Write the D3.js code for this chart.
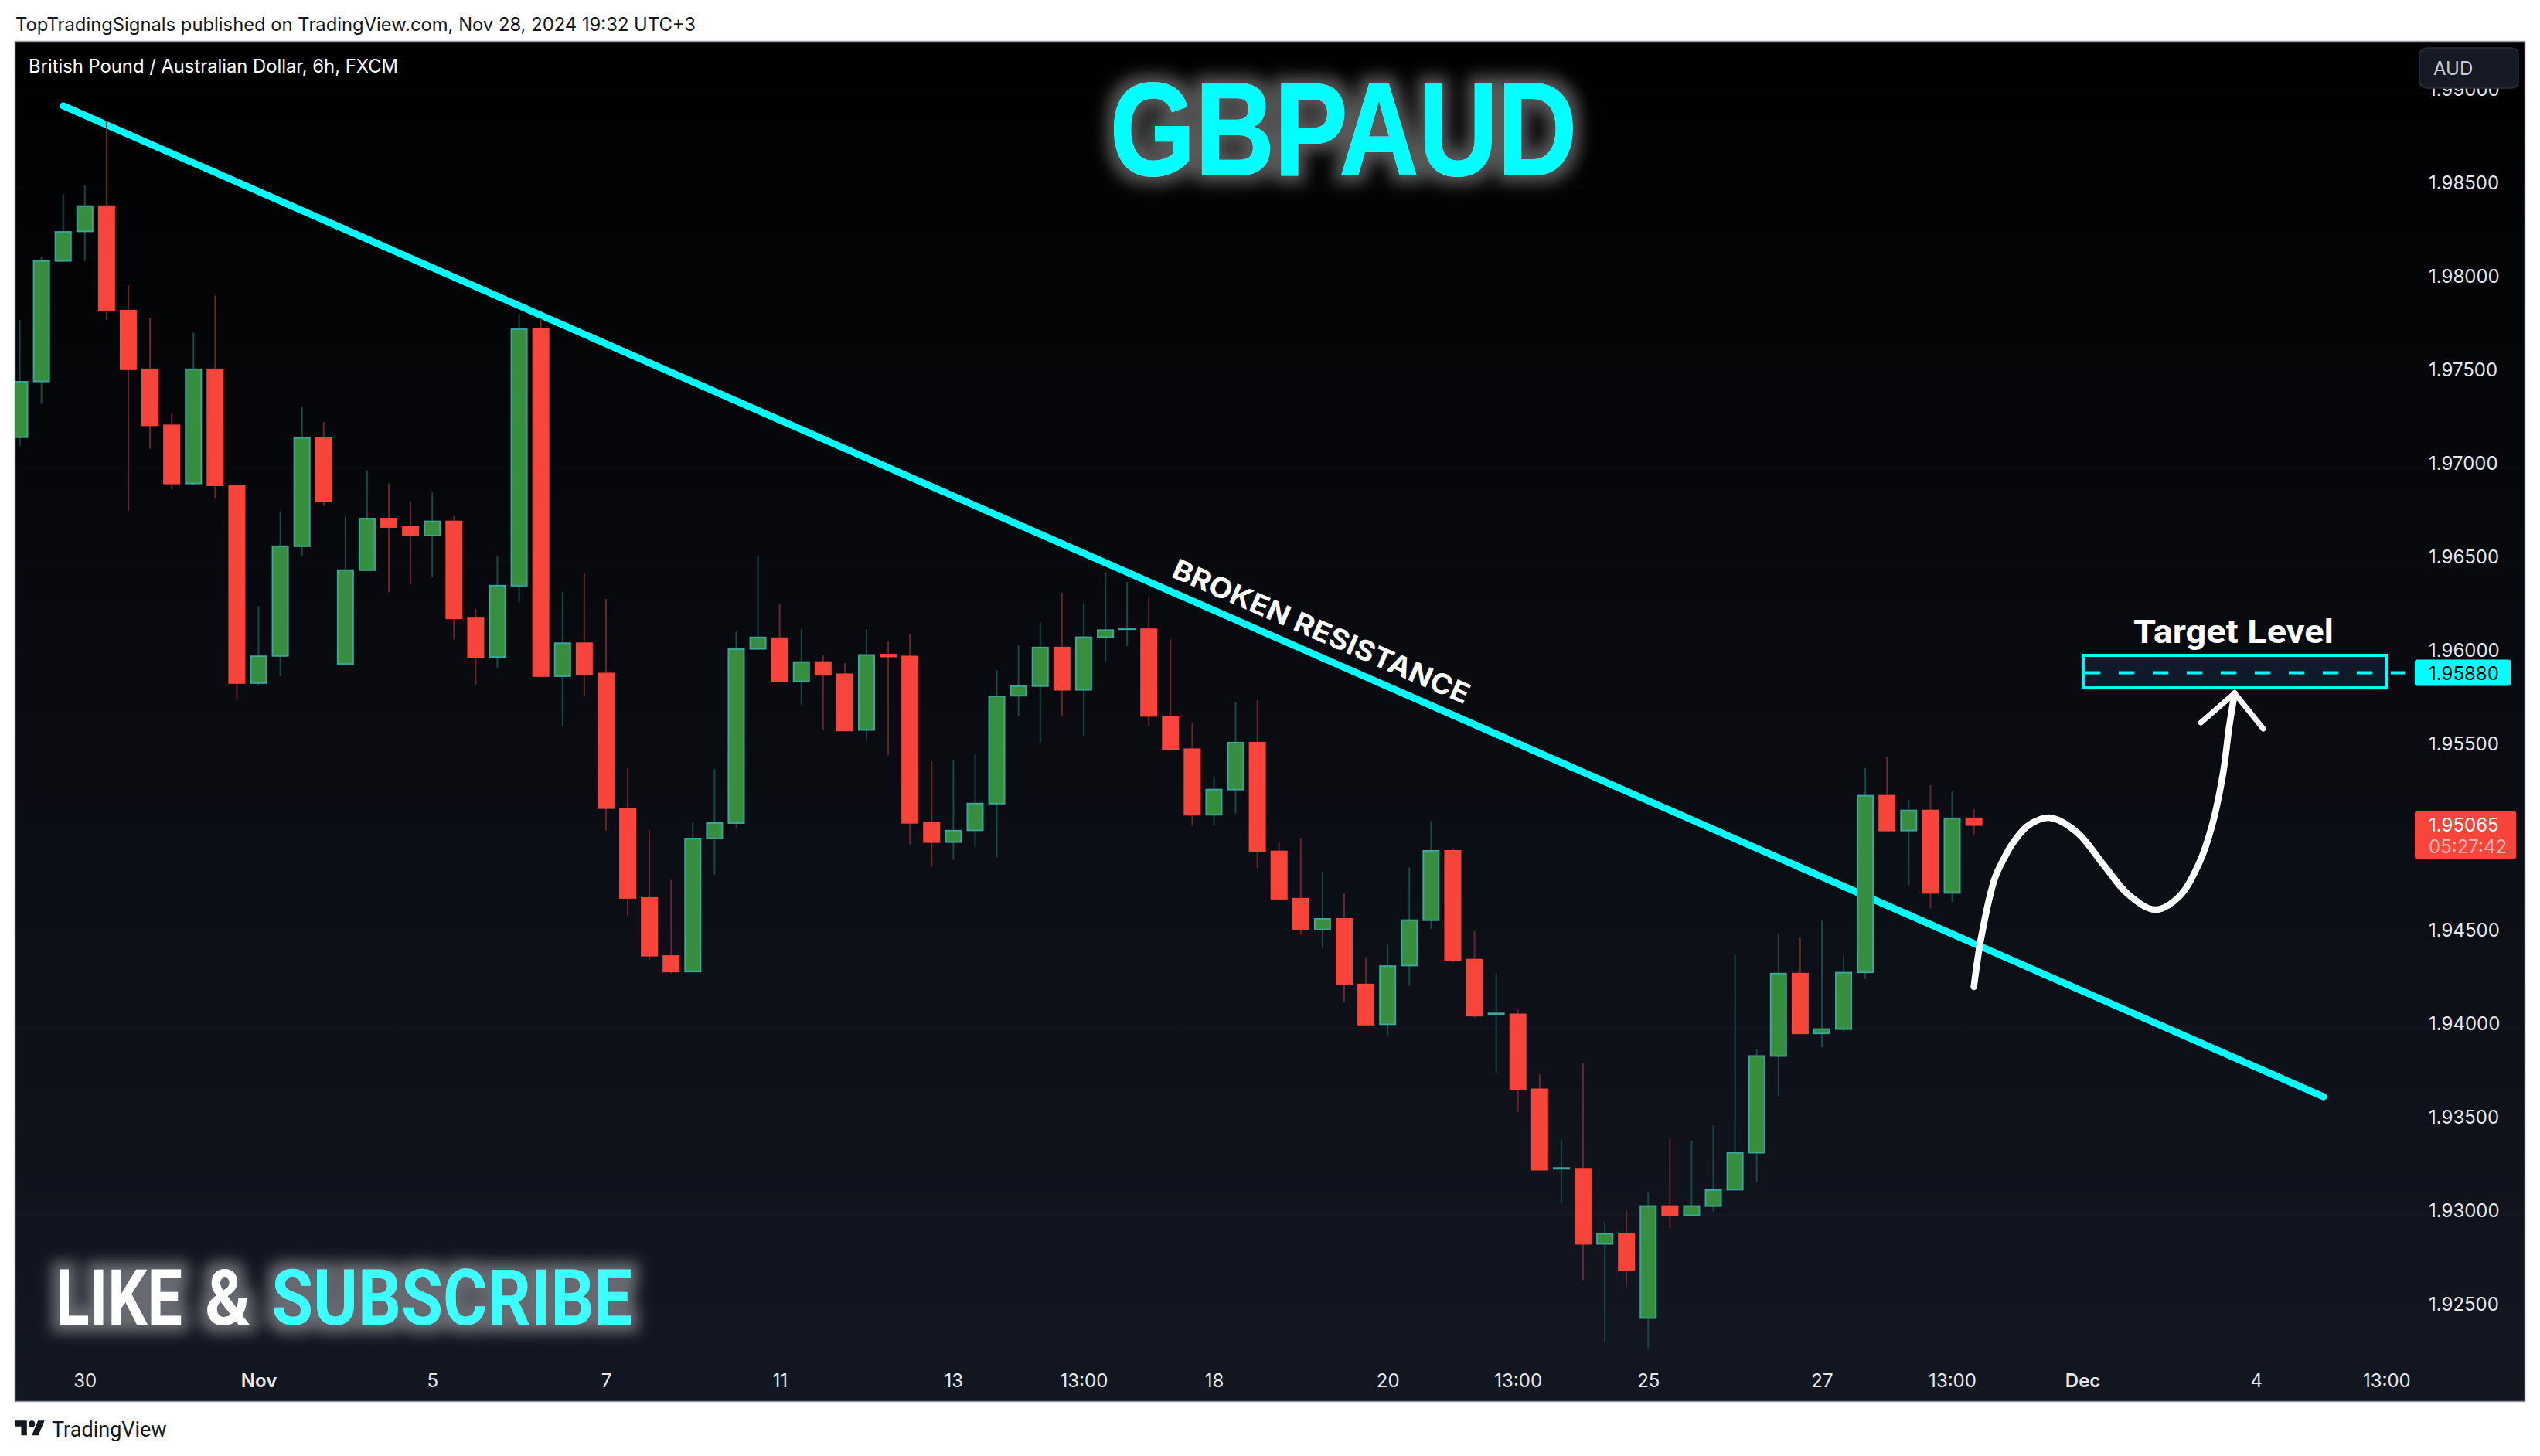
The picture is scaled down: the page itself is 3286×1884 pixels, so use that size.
<!DOCTYPE html>
<html><head><meta charset="utf-8">
<script src="https://cdn.jsdelivr.net/npm/d3@7/dist/d3.min.js"></script>
<style>html,body{margin:0;padding:0;background:#fff;width:3286px;height:1884px;overflow:hidden}svg{display:block}text{font-family:Inter,Roboto,sans-serif}</style>
</head><body><svg id="c" width="3286" height="1884"></svg>
<script>
const opens=[1.97141,1.97439,1.98084,1.98242,1.98377,1.97818,1.97504,1.97204,1.96893,1.97504,
1.96883,1.95825,1.95970,1.96557,1.97138,1.95928,1.96429,1.96705,1.96660,1.96614,
1.96690,1.96171,1.95965,1.96346,1.97720,1.95862,1.96038,1.95876,1.95154,1.94675,
1.94364,1.94281,1.94993,1.95076,1.96008,1.96065,1.95834,1.95937,1.95872,1.95574,
1.95977,1.95967,1.95077,1.94974,1.95037,1.95180,1.95757,1.95809,1.96015,1.95789,
1.96070,1.96113,1.96113,1.95646,1.95471,1.95120,1.95255,1.95506,1.94924,1.94671,
1.94506,1.94563,1.94212,1.93999,1.94313,1.94556,1.94927,1.94345,1.94052,1.94052,
1.93651,1.93226,1.93226,1.92824,1.92878,1.92427,1.93026,1.92977,1.93026,1.93114,
1.93312,1.93829,1.94270,1.93950,1.93973,1.94277,1.95222,1.95036,1.95143,1.94702,1.95101];
const closes=[1.97437,1.98084,1.98239,1.98377,1.97818,1.97504,1.97204,1.96893,1.97504,1.96883,
1.95825,1.95968,1.96557,1.97138,1.96798,1.96429,1.96705,1.96660,1.96614,1.96690,
1.96171,1.95963,1.96346,1.97718,1.95862,1.96038,1.95872,1.95156,1.94675,1.94366,
1.94281,1.94993,1.95076,1.96006,1.96069,1.95834,1.95937,1.95869,1.95571,1.95975,
1.95967,1.95077,1.94974,1.95035,1.95180,1.95754,1.95809,1.96015,1.95789,1.96070,
1.96108,1.96118,1.95649,1.95471,1.95120,1.95255,1.95506,1.94924,1.94671,1.94506,
1.94563,1.94212,1.93997,1.94310,1.94556,1.94927,1.94340,1.94045,1.94057,1.93651,
1.93221,1.93230,1.92824,1.92878,1.92683,1.93026,1.92977,1.93026,1.93112,1.93312,
1.93829,1.94270,1.93950,1.93973,1.94275,1.95222,1.95036,1.95143,1.94702,1.95101,1.95065];
const highs=[1.97768,1.98106,1.98442,1.98487,1.98833,1.97953,1.97780,1.97271,1.97700,1.97898,
1.96883,1.96236,1.96745,1.97304,1.97221,1.96715,1.96963,1.96893,1.96798,1.96845,
1.96720,1.96221,1.96504,1.97800,1.97775,1.96311,1.96414,1.96274,1.95369,1.95038,
1.94772,1.95083,1.95364,1.96101,1.96510,1.96250,1.96113,1.95977,1.95932,1.96113,
1.96047,1.96088,1.95406,1.95413,1.95448,1.95894,1.96027,1.96148,1.96308,1.96253,
1.96416,1.96366,1.96283,1.96060,1.95609,1.95323,1.95722,1.95732,1.94974,1.94997,
1.94814,1.94699,1.94358,1.94425,1.94839,1.95087,1.94944,1.94498,1.94273,1.94080,
1.93732,1.93379,1.93790,1.92943,1.93003,1.93096,1.93393,1.93377,1.93458,1.94368,
1.93864,1.94484,1.94461,1.94553,1.94368,1.95370,1.95431,1.95199,1.95278,1.95245,1.95150];
const lows=[1.97093,1.97319,1.98084,1.98084,1.97768,1.96747,1.97078,1.96860,1.96883,1.96813,
1.95735,1.95810,1.95862,1.96504,1.96772,1.95928,1.96429,1.96311,1.96354,1.96391,
1.96058,1.95817,1.95903,1.96256,1.95862,1.95594,1.95752,1.95036,1.94579,1.94341,
1.94271,1.94281,1.94800,1.95051,1.96008,1.95834,1.95709,1.95576,1.95566,1.95521,
1.95438,1.94962,1.94842,1.94879,1.94947,1.94892,1.95646,1.95508,1.95649,1.95544,
1.95940,1.96022,1.95596,1.95463,1.95062,1.95062,1.95127,1.94834,1.94671,1.94478,
1.94405,1.94120,1.93997,1.93942,1.94205,1.94508,1.94330,1.94036,1.93734,1.93530,
1.93221,1.93040,1.92629,1.92302,1.92597,1.92265,1.92908,1.92977,1.92996,1.93114,
1.93152,1.93611,1.93950,1.93876,1.93955,1.94240,1.95036,1.94744,1.94618,1.94653,1.95013];
const priceTicks=[1.925,1.93,1.935,1.94,1.945,1.955,1.96,1.965,1.97,1.975,1.98,1.985,1.99];
const timeTickIdx=[3,11,19,27,35,43,49,55,63,69,75,83,89,95,103,109];
const timeTickLabels=["30","Nov","5","7","11","13","13:00","18","20","13:00","25","27","13:00","Dec","4","13:00"];
const boldTicks=["Nov","Dec"];
const trendIdx=[2,106.1];
const trendPrice=[1.98914,1.93611];
const curveIdx=[90,90.33,90.97,91.44,91.79,92.51,93.51,94.75,96,97.1,98.35,99.45,100.37,100.98,101.48,101.76,102.01];
const curvePrice=[1.94199,1.94459,1.94782,1.94898,1.94968,1.95063,1.95104,1.95026,1.94848,1.94695,1.94612,1.94682,1.9486,1.95067,1.95344,1.95592,1.9577];
const headIdx=[100.45,102.01,103.33];
const headPrice=[1.95613,1.9577,1.9558];
const targetPrice=1.9588;
const targetBoxIdx=[95.03,109.02];
const targetBoxPrice=[1.95973,1.95799];
const targetDashEndIdx=109.85;
const lastPrice=1.95065;
const countdown="05:27:42";

const L=20,T=54,R=3266,B=1813;
const svg=d3.select("#c");
const x=d3.scaleLinear().domain([0,90]).range([25.5,2553.6]);
const y=d3.scaleLinear().domain([1.985,1.925]).range([237,1687.8]);
const defs=svg.append("defs");
const g=defs.append("linearGradient").attr("id","bg").attr("x1",0).attr("x2",0).attr("y1",0).attr("y2",1);
g.append("stop").attr("offset",0).attr("stop-color","#000000");
g.append("stop").attr("offset",1).attr("stop-color","#131722");
defs.append("clipPath").attr("id","cp").append("rect").attr("x",L).attr("y",T).attr("width",R-L).attr("height",B-T);
function glow(id,rad,std,op){
 const f=defs.append("filter").attr("id",id).attr("x","-20%").attr("y","-60%").attr("width","140%").attr("height","220%");
 f.append("feMorphology").attr("in","SourceAlpha").attr("operator","dilate").attr("radius",rad).attr("result","d");
 f.append("feGaussianBlur").attr("in","d").attr("stdDeviation",std).attr("result","b");
 f.append("feFlood").attr("flood-color","#ffffff").attr("flood-opacity",op);
 f.append("feComposite").attr("in2","b").attr("operator","in").attr("result","gl");
 const m=f.append("feMerge");m.append("feMergeNode").attr("in","gl");m.append("feMergeNode").attr("in","SourceGraphic");
}
glow("gT",9,10,0.34);
glow("gL",10,9,0.36);

svg.append("text").attr("x",20).attr("y",40).attr("font-size",24).attr("fill","#131722").attr("textLength",880).attr("lengthAdjust","spacingAndGlyphs").text("TopTradingSignals published on TradingView.com, Nov 28, 2024 19:32 UTC+3");
svg.append("rect").attr("x",L-.5).attr("y",T-.5).attr("width",R-L+1).attr("height",B-T+1).attr("fill","url(#bg)").attr("stroke","#9598a1").attr("stroke-width",1.5);
const plot=svg.append("g").attr("clip-path","url(#cp)");

plot.append("g").selectAll("line").data(priceTicks).join("line")
 .attr("x1",L).attr("x2",R).attr("y1",d=>y(d)+5).attr("y2",d=>y(d)+5).attr("stroke","#fff").attr("stroke-opacity",.015).attr("stroke-width",2);

const line=d3.line().x(d=>x(d[0])).y(d=>y(d[1]));
plot.append("path").attr("d",line(d3.zip(trendIdx,trendPrice))).attr("fill","none").attr("stroke","#00ffff").attr("stroke-width",9).attr("stroke-linecap","round");

const idx=d3.range(opens.length);
const up=i=>closes[i]>=opens[i];
plot.append("g").selectAll("line").data(idx).join("line")
 .attr("x1",i=>x(i)).attr("x2",i=>x(i)).attr("y1",i=>y(highs[i])).attr("y2",i=>y(lows[i]))
 .attr("stroke",i=>up(i)?"#134a4a":"#6b2429").attr("stroke-width",2);
plot.append("g").selectAll("rect").data(idx).join("rect")
 .attr("x",i=>x(i)-10).attr("width",20)
 .attr("y",i=>y(Math.max(opens[i],closes[i])))
 .attr("height",i=>Math.abs(y(opens[i])-y(closes[i])))
 .attr("fill",i=>up(i)?"#388e3f":"#f7453b")
 .attr("stroke",i=>up(i)?"#3aa79c":"#f7453b").attr("stroke-width",2);

plot.append("rect").attr("x",x(targetBoxIdx[0])).attr("y",y(targetBoxPrice[0])).attr("width",x(targetBoxIdx[1])-x(targetBoxIdx[0])).attr("height",y(targetBoxPrice[1])-y(targetBoxPrice[0]))
 .attr("fill","#0f1a2a").attr("stroke","#00ffff").attr("stroke-width",4);
plot.append("line").attr("x1",x(targetBoxIdx[0])+2).attr("x2",x(targetDashEndIdx)).attr("y1",y(targetPrice)).attr("y2",y(targetPrice))
 .attr("stroke","#00ffff").attr("stroke-width",4).attr("stroke-dasharray","20 24");

const curve=d3.line().x(d=>x(d[0])).y(d=>y(d[1])).curve(d3.curveCatmullRom);
plot.append("path").attr("d",curve(d3.zip(curveIdx,curvePrice))).attr("fill","none").attr("stroke","#fff").attr("stroke-width",8.5).attr("stroke-linecap","round");
plot.append("path").attr("d",line(d3.zip(headIdx,headPrice))).attr("fill","none").attr("stroke","#fff").attr("stroke-width",7).attr("stroke-linecap","round").attr("stroke-linejoin","miter");

const yAxis=d3.axisRight(y).tickValues(priceTicks).tickSize(0).tickPadding(0).tickFormat(d3.format(".5f"));
const ya=plot.append("g").attr("transform","translate(3142,0)").call(yAxis);
ya.select(".domain").remove();
ya.selectAll("text").style("font-family","Inter").attr("font-size",24).attr("fill","#e6e7ea");
const xAxis=d3.axisBottom(x).tickValues(timeTickIdx).tickSize(0).tickPadding(0).tickFormat((d,i)=>timeTickLabels[i]);
const xa=plot.append("g").attr("transform","translate(0,1778)").call(xAxis);
xa.select(".domain").remove();
xa.selectAll("text").style("font-family","Inter").attr("font-size",24).attr("fill","#e6e7ea")
 .attr("font-weight",function(){return boldTicks.includes(this.textContent)?600:400;});

plot.append("rect").attr("x",3124).attr("y",y(targetPrice)-17).attr("width",124).attr("height",34).attr("rx",3).attr("fill","#00ffff");
plot.append("text").attr("x",3142).attr("y",y(targetPrice)+9).attr("font-size",24).attr("fill","#000").text(d3.format(".5f")(targetPrice));
plot.append("rect").attr("x",3124).attr("y",y(lastPrice)-18).attr("width",131).attr("height",62).attr("rx",3).attr("fill","#f7453b");
plot.append("text").attr("x",3142).attr("y",y(lastPrice)+8).attr("font-size",24).attr("fill","#fff").text(d3.format(".5f")(lastPrice));
plot.append("text").attr("x",3142).attr("y",y(lastPrice)+36).attr("font-size",24).attr("fill","#fff").attr("fill-opacity",.62).text(countdown);

plot.append("rect").attr("x",3130).attr("y",62).attr("width",128).attr("height",52).attr("rx",9).attr("fill","#161a25").attr("stroke","#2a2e39").attr("stroke-width",1.5);
plot.append("text").attr("x",3148).attr("y",97).attr("font-size",24).attr("fill","#c9cbd4").text("AUD");

plot.append("text").attr("x",37).attr("y",94).attr("font-size",24).attr("fill","#fff").attr("textLength",478).attr("lengthAdjust","spacingAndGlyphs").text("British Pound / Australian Dollar, 6h, FXCM");
svg.append("text").attr("x",1436).attr("y",226).attr("font-size",170).attr("font-weight",700).style("font-family","'Liberation Sans'").attr("fill","#00ffff").attr("stroke","#00ffff").attr("stroke-width",2).attr("textLength",604).attr("lengthAdjust","spacingAndGlyphs").attr("filter","url(#gT)").text("GBPAUD");
const like=svg.append("g").attr("filter","url(#gL)");
function fitted(txt,xp,w,col){
 const t=like.append("text").attr("font-size",101).attr("font-weight",700).style("font-family","Roboto").attr("fill",col).text(txt);
 const n=t.node().getComputedTextLength();
 t.attr("transform",`translate(${xp},1714) scale(${w/n},1)`);
}
fitted("LIKE",72,164,"#ffffff");
fitted("&",265,59,"#ffffff");
fitted("SUBSCRIBE",351,467,"#3dffff");
svg.append("text").attr("x",2760).attr("y",832).attr("font-size",42).attr("font-weight",700).style("font-family","Roboto").attr("fill","#fff").attr("textLength",259).attr("lengthAdjust","spacingAndGlyphs").text("Target Level");
svg.append("text").attr("transform","translate(1514,746) rotate(23.5)").attr("font-size",36).attr("font-weight",700).attr("fill","#fff").attr("textLength",415).attr("lengthAdjust","spacingAndGlyphs").text("BROKEN RESISTANCE");

const logo=svg.append("g").attr("transform","translate(20,1834) scale(1.06)").attr("fill","#131722");
logo.append("path").attr("d","M14 22H7V11H0V4h14v18zM28 22h-8l7.5-18h8L28 22z");
logo.append("circle").attr("cx",20).attr("cy",8).attr("r",4);
svg.append("text").attr("x",67).attr("y",1859).attr("font-size",27).style("font-family","Roboto").attr("fill","#131722").text("TradingView");
</script></body></html>
